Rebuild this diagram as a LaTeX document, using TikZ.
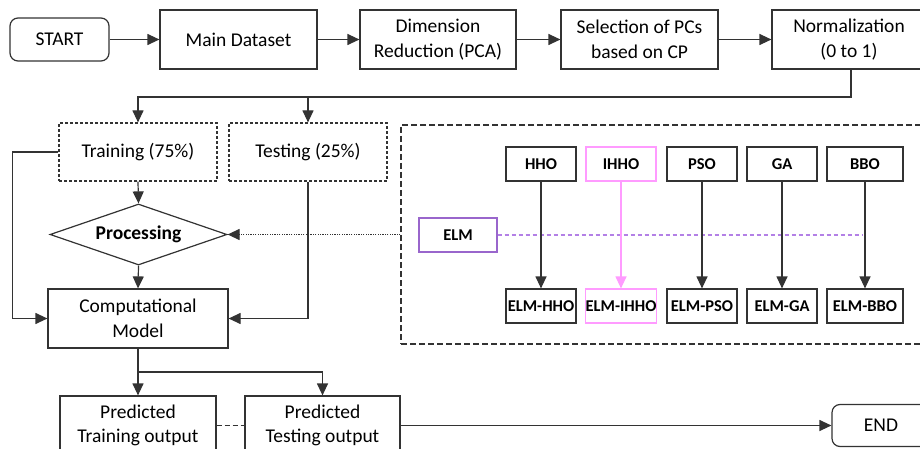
\documentclass[tikz,border=0pt]{standalone}
\usepackage{fontspec}
\setmainfont{Carlito}
\usetikzlibrary{shapes.geometric,arrows.meta}
\definecolor{linec}{HTML}{333333}
\definecolor{pinkc}{HTML}{FF9BFF}
\definecolor{elmc}{HTML}{9966CC}
\definecolor{elmline}{HTML}{B380E6}
\tikzset{
  box/.style={draw=linec, line width=1.2pt, rectangle, inner sep=0pt,
    minimum width=157pt, minimum height=59pt, align=center,
    font=\fontsize{19.5}{24.5}\selectfont},
  term/.style={box, rounded corners=8pt, minimum width=99pt, minimum height=43pt},
  splitbox/.style={box, dash pattern=on 3pt off 2pt, minimum width=158pt, minimum height=58pt},
  algo/.style={box, minimum width=70pt, minimum height=34pt,
    font=\fontsize{16.5}{20}\selectfont\bfseries},
  arr/.style={draw=linec, line width=1.2pt, -{Triangle[length=12pt,width=11pt]}},
  conn/.style={draw=linec, line width=1.2pt},
}
\begin{document}
\begin{tikzpicture}[x=1pt,y=-1pt]
\useasboundingbox (0,0) rectangle (920,449);
\clip (0,0) rectangle (920,449);
\fill[white] (0,0) rectangle (920,449);

% top pipeline
\node[term] (start) at (59.5,39.5) {START};
\node[box] (main) at (238.5,39.5) {Main Dataset};
\node[box, minimum width=156pt] (dim) at (438,39.5) {Dimension\\Reduction (PCA)};
\node[box] (sel) at (639.5,39.5) {Selection of PCs\\based on CP};
\node[box, minimum width=154pt] (norm) at (849,39.5) {Normalization\\(0 to 1)};

\draw[arr] (start) -- (main);
\draw[arr] (main) -- (dim);
\draw[arr] (dim) -- (sel);
\draw[arr] (sel) -- (norm);

% data split
\node[splitbox] (train) at (138,152) {Training (75\%)};
\node[splitbox] (test) at (308,152) {Testing (25\%)};
\coordinate (bus) at (138,97);
\draw[arr] ([xshift=2pt]norm.south) |- (bus) -- (train.north);
\draw[arr] (test.north |- bus) -- (test.north);

% processing and model
\node[draw=linec, line width=1.2pt, diamond, aspect=2.9, inner sep=0pt,
  minimum width=177pt, minimum height=61pt,
  font=\fontsize{19.5}{24}\selectfont\bfseries] (proc) at (138.5,234.5) {Processing};
\node[box, minimum width=180pt] (comp) at (138,318.5) {Computational\\Model};

\draw[arr] (train.south) -- (proc.north);
\draw[arr] (proc.south) -- (comp.north);
\draw[arr] (train.west) -- ++(-46,0) |- (comp.west);
\draw[arr] (test.south) |- (comp.east);

% optimisation frame
\node[draw=linec, line width=1.2pt, dash pattern=on 6pt off 3pt, rectangle,
  minimum width=524pt, minimum height=219pt, inner sep=0pt] (frame) at (663,234.5) {};
\draw[arr, dash pattern=on 1.2pt off 1.2pt] (frame.west) -- (proc.east);

\node[algo] (hho) at (541,164) {HHO};
\node[algo, draw=pinkc] (ihho) at (621,164) {IHHO};
\node[algo] (pso) at (702,164) {PSO};
\node[algo] (ga) at (782,164) {GA};
\node[algo, minimum width=76pt] (bbo) at (865,164) {BBO};

\node[algo] (ehho) at (541,306) {ELM-HHO};
\node[algo, draw=pinkc] (eihho) at (621,306) {ELM-IHHO};
\node[algo] (epso) at (702,306) {ELM-PSO};
\node[algo] (ega) at (782,306) {ELM-GA};
\node[algo, minimum width=76pt] (ebbo) at (865,306) {ELM-BBO};

\node[algo, draw=elmc, minimum width=78pt] (elm) at (458,235) {ELM};
\coordinate (elmend) at (862,235);
\draw[draw=elmline, line width=1.2pt, dash pattern=on 4pt off 3pt] (elm.east) -- (elmend);

\draw[arr] (hho) -- (ehho);
\draw[arr, draw=pinkc, fill=pinkc] (ihho) -- (eihho);
\draw[arr] (pso) -- (epso);
\draw[arr] (ga) -- (ega);
\draw[arr] (bbo) -- (ebbo);

% outputs
\node[box, minimum width=156pt] (ptrain) at (138,425.5) {Predicted\\Training output};
\node[box, minimum width=155pt] (ptest) at (322.5,425.5) {Predicted\\Testing output};
\node[term, minimum width=98pt, minimum height=42pt] (end) at (881,425.5) {END};

\coordinate (cbus) at (138,372);
\draw[arr] (comp.south) -- (ptrain.north);
\draw[arr] (cbus) -| (ptest.north);
\draw[conn, dash pattern=on 5pt off 3pt] (ptrain.east) -- (ptest.west);
\draw[arr] (ptest.east) -- (end.west);
\end{tikzpicture}
\end{document}
